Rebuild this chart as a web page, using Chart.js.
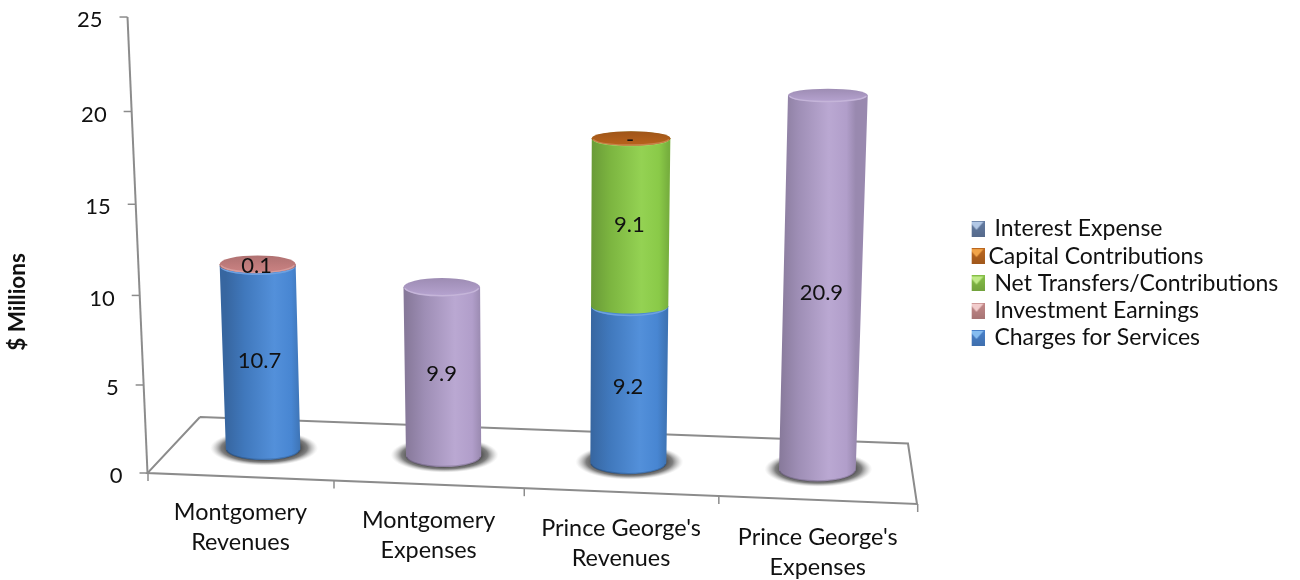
<!DOCTYPE html>
<html>
<head>
<meta charset="utf-8">
<title>Revenues and Expenses</title>
<script src="https://cdn.jsdelivr.net/npm/chart.js@4"></script>
<style>
  html, body { margin: 0; padding: 0; background: #fff; }
  #wrap { width: 1300px; height: 580px; }
</style>
</head>
<body>
<div id="wrap"><canvas id="chart" width="1300" height="580"></canvas></div>
<script>
var categories = [["Montgomery","Revenues"],["Montgomery","Expenses"],["Prince George's","Revenues"],["Prince George's","Expenses"]];
var charges    = [10.7, 0, 9.2, 0];
var investment = [0.1, 0, 0, 0];
var transfers  = [0, 0, 9.1, 0];
var capital    = [0, 0, 0.02, 0];
var interest   = [0, 0, 0, 0];
var expenses   = [0, 9.9, 0, 20.9];
var yMax = 25;
var yStep = 5;

var FONT = "Lato";
var GREY = "#8c8c8c";

function mix(hex, f) {
  var n = parseInt(hex.slice(1), 16);
  var c = [n >> 16, (n >> 8) & 255, n & 255].map(function (v) {
    return Math.round(f < 1 ? v * f : v + (255 - v) * (f - 1));
  });
  return "rgb(" + c.join(",") + ")";
}

// legend swatch: square with the light triangle on top
function swatch(base, light) {
  var c = document.createElement("canvas");
  c.width = 16; c.height = 16;
  var x = c.getContext("2d");
  var g = x.createLinearGradient(0, 0, 0, 16);
  g.addColorStop(0, base); g.addColorStop(1, mix(base, 0.85));
  x.fillStyle = g; x.fillRect(0, 0, 16, 16);
  x.fillStyle = light;
  x.beginPath(); x.moveTo(1, 1); x.lineTo(15, 1); x.lineTo(8, 9); x.closePath(); x.fill();
  return c;
}

// --- the perspective of the 3D plot, all worked on scale values ---
function wallHeight(v) { return 17.45 * v / (1 - 0.00173 * v); }
function axisPoint(v) {
  var h = wallHeight(v);
  return { x: 147.5 - 20 * h / 456, y: 473 - h };
}
function frontX(px) {
  var d = px - 148;
  return 148 + d * 0.9563 + d * d * 5.8e-5;
}
function frontY(x) { return 473 + (x - 147) * 31 / 770; }
function barPoint(px, v, halfWidth) {
  var d = px - 244;
  var bx = 263 + d * 0.9278 + d * d * 5.75e-5;
  var by = 449 + (bx - 263) * 0.0379;
  var h = 16.32 * v / (1 - 0.00429 * v);
  var y = by - h;
  return {
    x: bx + (bx - 548) * 1.04e-4 * h,
    y: y,
    rx: halfWidth + 0.004 * h + (bx - 263) * 0.002,
    ry: 5.5 + 0.0125 * y
  };
}

var cylinders = {
  id: "cylinders",
  beforeDraw: function (chart) {
    var yScale = chart.scales.y, xScale = chart.scales.x;
    yScale.getLabelItems().forEach(function (item, i) {
      var p = axisPoint(yScale.ticks[i].value);
      item.options.textAlign = "right";
      item.options.textBaseline = "middle";
      item.textOffset = 0;
      item.options.translation = [p.x - 25, p.y + 3];
    });
    xScale.getLabelItems().forEach(function (item, i) {
      var x = frontX(xScale.getPixelForTick(i));
      item.options.textAlign = "center";
      item.options.textBaseline = "middle";
      item.textOffset = 0;
      item.options.translation = [x, 512 + (x - 240) * 0.0433];
    });
    var leg = chart.legend;
    leg.left = 976 - leg.options.labels.padding;
    leg.right = 1300;
    leg.top = 213;
    leg.bottom = 580;
  },
  beforeDatasetsDraw: function (chart) {
    var ctx = chart.ctx, yScale = chart.scales.y, xScale = chart.scales.x;
    ctx.save();

    // floor and left axis
    ctx.strokeStyle = GREY;
    ctx.lineWidth = 2;
    ctx.beginPath();
    ctx.moveTo(200, 417); ctx.lineTo(908, 443.5); ctx.lineTo(917, 504);
    ctx.lineTo(147.5, 473); ctx.lineTo(200, 417);
    ctx.stroke();
    var top = axisPoint(yMax);
    ctx.beginPath(); ctx.moveTo(top.x, top.y); ctx.lineTo(147.5, 473); ctx.stroke();
    ctx.lineWidth = 1.5;
    yScale.ticks.forEach(function (t) {
      var p = axisPoint(t.value);
      ctx.beginPath(); ctx.moveTo(p.x, p.y); ctx.lineTo(p.x - 8, p.y); ctx.stroke();
    });
    var half = (xScale.getPixelForTick(1) - xScale.getPixelForTick(0)) / 2;
    for (var i = 0; i <= categories.length; i++) {
      var ex = frontX(xScale.getPixelForTick(0) - half + i * 2 * half);
      ctx.beginPath(); ctx.moveTo(ex, frontY(ex)); ctx.lineTo(ex, frontY(ex) + 8); ctx.stroke();
    }

    var metas = chart.data.datasets.map(function (d, i) { return chart.getDatasetMeta(i); });

    // shadows on the floor
    metas[0].data.forEach(function (el) {
      var b = barPoint(el.x, 0, el.width / 2);
      ctx.save();
      ctx.translate(b.x + 1, b.y - 1);
      ctx.scale(1, 0.33);
      var g = ctx.createRadialGradient(0, 0, 36, 0, 0, 54);
      g.addColorStop(0, "rgba(70,70,70,0.95)");
      g.addColorStop(0.4, "rgba(95,95,95,0.8)");
      g.addColorStop(0.75, "rgba(150,150,150,0.35)");
      g.addColorStop(1, "rgba(200,200,200,0)");
      ctx.fillStyle = g;
      ctx.beginPath(); ctx.arc(0, 0, 54, 0, Math.PI * 2); ctx.fill();
      ctx.restore();
    });

    // cylinders, bottom segment first
    metas.forEach(function (meta, ds) {
      var color = chart.data.datasets[ds].backgroundColor;
      meta.data.forEach(function (el, i) {
        if (!chart.data.datasets[ds].data[i]) return;
        var v0 = yScale.getValueForPixel(el.base), v1 = yScale.getValueForPixel(el.y);
        var a = barPoint(el.x, v0, el.width / 2), b = barPoint(el.x, v1, el.width / 2);
        var g = ctx.createLinearGradient(a.x - a.rx, 0, a.x + a.rx, 0);
        g.addColorStop(0, mix(color, 0.74));
        g.addColorStop(0.25, mix(color, 0.87));
        g.addColorStop(0.65, mix(color, 1.05));
        g.addColorStop(0.88, mix(color, 0.97));
        g.addColorStop(1, mix(color, 0.84));
        ctx.fillStyle = g;
        ctx.beginPath();
        ctx.moveTo(b.x - b.rx, b.y);
        ctx.lineTo(b.x + b.rx, b.y);
        ctx.lineTo(a.x + a.rx, a.y);
        // joints between segments curve less than the foot of the cylinder
        ctx.ellipse(a.x, a.y, a.rx, v0 > 0 ? a.ry * 0.75 : a.ry, 0, 0, Math.PI);
        ctx.closePath();
        ctx.fill();
        if (v0 === 0) {
          ctx.strokeStyle = "rgba(0,0,0,0.18)";
          ctx.lineWidth = 1.5;
          ctx.beginPath(); ctx.ellipse(a.x, a.y, a.rx - 0.5, a.ry - 0.5, 0, 0.1, Math.PI - 0.1); ctx.stroke();
        }
        // cap
        var cap = ctx.createLinearGradient(0, b.y - b.ry, 0, b.y + b.ry);
        cap.addColorStop(0, mix(color, 0.86));
        cap.addColorStop(1, mix(color, 1.0));
        ctx.fillStyle = cap;
        ctx.beginPath(); ctx.ellipse(b.x, b.y, b.rx, b.ry, 0, 0, Math.PI * 2); ctx.fill();
        ctx.strokeStyle = mix(color, 1.2);
        ctx.lineWidth = 1.5;
        ctx.beginPath(); ctx.ellipse(b.x, b.y, b.rx - 1, b.ry - 0.5, 0, 0.15, Math.PI - 0.15); ctx.stroke();
      });
    });

    // value labels
    ctx.fillStyle = "#111";
    ctx.font = "22px " + FONT;
    ctx.textAlign = "center";
    ctx.textBaseline = "middle";
    metas.forEach(function (meta, ds) {
      meta.data.forEach(function (el, i) {
        var val = chart.data.datasets[ds].data[i];
        if (!val) return;
        var mid = (yScale.getValueForPixel(el.base) + yScale.getValueForPixel(el.y)) / 2;
        var p = barPoint(el.x, mid, el.width / 2);
        ctx.fillText(val < 0.05 ? "-" : val.toFixed(1), p.x - 1, p.y + 1);
      });
    });

    // axis title
    ctx.save();
    ctx.translate(18, 302);
    ctx.rotate(-Math.PI / 2);
    ctx.font = "bold 22.5px " + FONT;
    ctx.fillText("$ Millions", 0, 0);
    ctx.restore();

    ctx.restore();
    return false;
  }
};

window.onload = function () {
  new Chart(document.getElementById("chart").getContext("2d"), {
    type: "bar",
    data: {
      labels: categories,
      datasets: [
        { label: " Charges for Services", data: charges, backgroundColor: "#4a8ad8", marker: swatch("#4a82cc", "#85bcf0") },
        { label: " Investment Earnings", data: investment, backgroundColor: "#cc8383", marker: swatch("#c58a8a", "#f2cccc") },
        { label: " Net Transfers/Contributions", data: transfers, backgroundColor: "#8ed04a", marker: swatch("#86bf48", "#c0ea88") },
        { label: "Capital Contributions", data: capital, backgroundColor: "#b9631c", marker: swatch("#bc6820", "#f2a448") },
        { label: " Interest Expense", data: interest, backgroundColor: "#5a7299", marker: swatch("#657da3", "#b2c8e6") },
        { label: "Expenses", data: expenses, backgroundColor: "#b6a3d0" }
      ]
    },
    options: {
      responsive: false,
      animation: false,
      devicePixelRatio: 1,
      layout: { padding: { top: 17, right: 133, left: 0, bottom: 0 } },
      scales: {
        x: {
          stacked: true,
          grid: { display: false },
          border: { display: false },
          ticks: { autoSkip: false, maxRotation: 0, color: "#111", font: { family: FONT, size: 23.4, lineHeight: 1.28 } },
          afterFit: function (s) { s.height = 107; }
        },
        y: {
          stacked: true,
          min: 0,
          max: yMax,
          grid: { display: false },
          border: { display: false },
          ticks: { stepSize: yStep, color: "#111", font: { family: FONT, size: 22 } },
          afterFit: function (s) { s.width = 148; }
        }
      },
      datasets: { bar: { barPercentage: 0.76, categoryPercentage: 0.51 } },
      plugins: {
        tooltip: { enabled: false },
        legend: {
          position: "right",
          align: "start",
          reverse: true,
          maxWidth: 250,
          labels: {
            usePointStyle: true,
            boxWidth: 1,
            padding: 4.3,
            color: "#111",
            font: { family: FONT, size: 23 },
            filter: function (item) { return item.text !== "Expenses"; },
            generateLabels: function (chart) {
              return chart.data.datasets.map(function (d, i) {
                return { text: d.label, fillStyle: d.backgroundColor, strokeStyle: d.backgroundColor, lineWidth: 0, pointStyle: d.marker, datasetIndex: i, fontColor: "#111" };
              });
            }
          }
        }
      }
    },
    plugins: [cylinders]
  });
};
</script>
</body>
</html>
